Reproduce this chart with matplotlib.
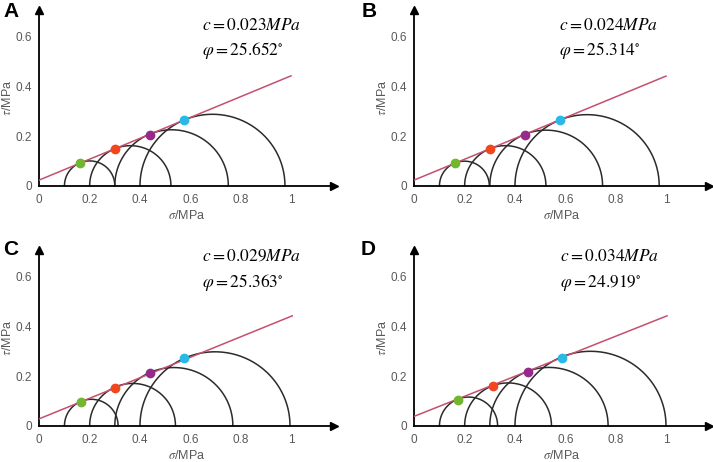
import matplotlib
matplotlib.use("Agg")
import numpy as np
import matplotlib.pyplot as plt

plt.rcParams["mathtext.fontset"] = "stix"
plt.rcParams["font.family"] = ["Liberation Sans", "DejaVu Sans"]

# ----------------------------
# DATA
# ----------------------------
panels = ["A", "B", "C", "D"]
cohesion = ["0.023", "0.024", "0.029", "0.034"]
friction = ["25.652", "25.314", "25.363", "24.919"]

# minor / major principal stress of each Mohr circle (MPa)
sigma3 = [0.1, 0.2, 0.3, 0.4]
sigma1_A = [0.300, 0.523, 0.751, 0.976]
sigma1_B = [0.298, 0.523, 0.748, 0.973]
sigma1_C = [0.313, 0.541, 0.769, 0.996]
sigma1_D = [0.331, 0.545, 0.770, 1.000]

# tangent points of the strength envelope
pt_sigma_A = [0.162, 0.300, 0.438, 0.576]
pt_tau_A = [0.090, 0.148, 0.205, 0.264]
pt_sigma_B = [0.162, 0.301, 0.440, 0.577]
pt_tau_B = [0.090, 0.148, 0.205, 0.263]
pt_sigma_C = [0.166, 0.302, 0.438, 0.576]
pt_tau_C = [0.097, 0.153, 0.213, 0.271]
pt_sigma_D = [0.173, 0.311, 0.450, 0.588]
pt_tau_D = [0.104, 0.159, 0.215, 0.273]

# envelope line: tau at sigma = 0 and at its end
line_start = [0.023, 0.023, 0.028, 0.038]
line_end_sigma = [1.0, 1.0, 1.005, 1.004]
line_end_tau = [0.443, 0.442, 0.443, 0.443]

x_ticks = [0, 0.2, 0.4, 0.6, 0.8, 1]
x_ticklabels = ["0", "0.2", "0.4", "0.6", "0.8", "1"]
y_ticks = [0, 0.2, 0.4, 0.6]
y_ticklabels = ["0", "0.2", "0.4", "0.6"]

sigma1_all = [sigma1_A, sigma1_B, sigma1_C, sigma1_D]
pt_sigma_all = [pt_sigma_A, pt_sigma_B, pt_sigma_C, pt_sigma_D]
pt_tau_all = [pt_tau_A, pt_tau_B, pt_tau_C, pt_tau_D]

# ----------------------------
# LAYOUT / STYLE
# ----------------------------
W, H = 713, 462
point_colors = ["#72b52e", "#f2471c", "#962a8c", "#2bb8e6"]
line_color = "#c4506e"
circle_color = "#2b2b2b"
tick_color = "#595959"

# axis origin in pixels (from top-left), px per unit
origins = [(39.3, 185.7), (414.3, 185.7), (39.3, 425.7), (414.3, 425.7)]
px_x, px_y = 251.7, 248.0
xmax, ymax = 1.17, 0.71

# text position (sigma, tau) of the c line, phi line below it
text_pos = [(0.645, 0.648, 0.547), (0.576, 0.648, 0.547),
            (0.646, 0.685, 0.577), (0.579, 0.685, 0.577)]
label_pos = [(3, 2), (362, 2), (3, 240), (361, 240)]

fig = plt.figure(figsize=(W / 100, H / 100), dpi=100)

for i in range(4):
    ox, oy = origins[i]
    left = ox / W
    bottom = (H - oy) / H
    width = xmax * px_x / W
    height = ymax * px_y / H
    ax = fig.add_axes([left, bottom, width, height])
    ax.set_xlim(0, xmax)
    ax.set_ylim(0, ymax)
    ax.patch.set_alpha(0)

    for s in ["top", "right"]:
        ax.spines[s].set_visible(False)
    for s in ["left", "bottom"]:
        ax.spines[s].set_linewidth(1.3)
        ax.spines[s].set_color("black")

    # arrow heads
    ax.plot(1, 0, ">k", transform=ax.transAxes, clip_on=False, markersize=6)
    ax.plot(0, 1, "^k", transform=ax.transAxes, clip_on=False, markersize=6)

    # Mohr circles
    theta = np.linspace(0, np.pi, 200)
    for s3, s1 in zip(sigma3, sigma1_all[i]):
        p = (s1 + s3) / 2
        r = (s1 - s3) / 2
        ax.plot(p + r * np.cos(theta), r * np.sin(theta),
                color=circle_color, lw=1.1, clip_on=False)

    # strength envelope
    ax.plot([0, line_end_sigma[i]], [line_start[i], line_end_tau[i]],
            color=line_color, lw=1.1, zorder=3)

    # tangent points
    for sx, ty, col in zip(pt_sigma_all[i], pt_tau_all[i], point_colors):
        ax.plot(sx, ty, "o", color=col, markersize=6, zorder=4)

    ax.set_xticks(x_ticks)
    ax.set_xticklabels(x_ticklabels)
    ax.set_yticks(y_ticks)
    ax.set_yticklabels(y_ticklabels)
    ax.tick_params(length=0, labelsize=8.5, labelcolor=tick_color)
    ax.tick_params(axis="x", pad=6)
    ax.tick_params(axis="y", pad=5)

    ax.set_xlabel(r"$\sigma$/MPa", fontsize=9, color=tick_color, labelpad=2)
    ax.set_ylabel(r"$\tau$/MPa", fontsize=9, color=tick_color, labelpad=1)

    tx, tc, tp = text_pos[i]
    ax.text(tx, tc, r"$c = %s\mathit{MPa}$" % cohesion[i],
            fontsize=12.5, va="center", ha="left")
    ax.text(tx, tp, r"$\varphi = %s^{\circ}$" % friction[i],
            fontsize=12.5, va="center", ha="left")

    lx, ly = label_pos[i]
    fig.text(lx / W, 1 - ly / H, panels[i], fontsize=15, fontweight="bold",
             va="top", ha="left")

fig.savefig("out.png", dpi=100)
